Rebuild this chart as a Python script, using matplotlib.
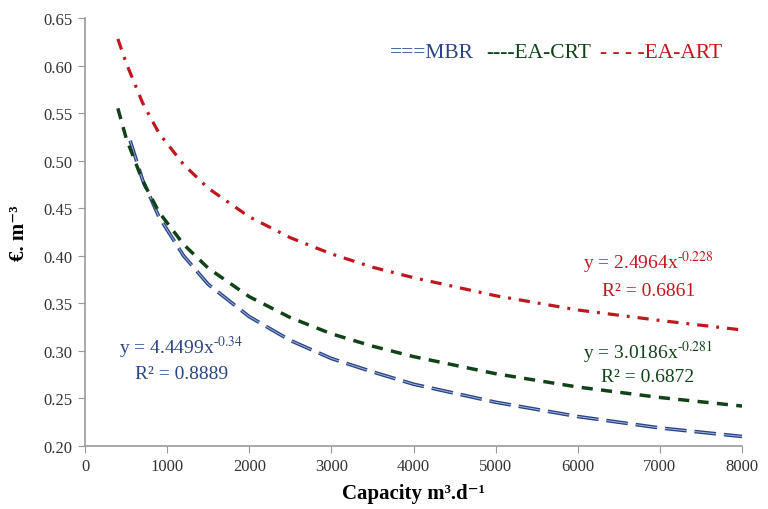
import matplotlib
matplotlib.use("Agg")
import matplotlib.pyplot as plt

plt.rcParams['font.family'] = ['Liberation Serif', 'DejaVu Serif']
plt.rcParams['mathtext.fontset'] = 'stix'

# Values
mbr_x = [550, 700, 900, 1200, 1500, 2000, 2500, 3000, 3500, 4000, 5000, 6000, 7000, 8000]
mbr_y = [0.521, 0.480, 0.441, 0.400, 0.370, 0.336, 0.311, 0.292, 0.278, 0.265, 0.246, 0.231, 0.219, 0.210]

crt_x = [400, 500, 700, 900, 1200, 1500, 2000, 2500, 3000, 3500, 4000, 5000, 6000, 7000, 8000]
crt_y = [0.555, 0.524, 0.479, 0.446, 0.412, 0.387, 0.357, 0.335, 0.318, 0.305, 0.294, 0.276, 0.262, 0.251, 0.242]

art_x = [400, 500, 700, 900, 1200, 1500, 2000, 2500, 3000, 3500, 4000, 5000, 6000, 7000, 8000]
art_y = [0.628, 0.603, 0.561, 0.529, 0.496, 0.471, 0.441, 0.419, 0.402, 0.388, 0.377, 0.358, 0.343, 0.332, 0.322]

x_ticks = [0, 1000, 2000, 3000, 4000, 5000, 6000, 7000, 8000]
y_ticks = [0.20, 0.25, 0.30, 0.35, 0.40, 0.45, 0.50, 0.55, 0.60, 0.65]

c_mbr = '#2B4584'
c_crt = '#12421A'
c_art = '#C0161E'

fig = plt.figure(figsize=(7.68, 5.10), dpi=100)
ax = fig.add_axes([85/768, 1-447/510, (742-85)/768, (447-19)/510])

ax.plot(mbr_x, mbr_y, color=c_mbr, lw=2.6, dashes=(6, 2.2))
ax.plot(mbr_x, mbr_y, color='#9DB3DD', lw=0.7, dashes=(6*2.6/0.7, 2.2*2.6/0.7))
ax.plot(crt_x, crt_y, color=c_crt, lw=2.5, dashes=(3.2, 2.4))
ax.plot(art_x, art_y, color=c_art, lw=2.3, dashes=(3.5, 2.5, 0.9, 2.5))

ax.set_xlim(0, 8000)
ax.set_ylim(0.20, 0.65)
ax.set_xticks(x_ticks)
ax.set_yticks(y_ticks)
ax.set_yticklabels([f"{v:.2f}" for v in y_ticks])
for s in ['top', 'right']:
    ax.spines[s].set_visible(False)
for s in ['left', 'bottom']:
    ax.spines[s].set_color('#9a9a9a')
    ax.spines[s].set_linewidth(1.2)
ax.tick_params(axis='both', direction='out', length=5, color='#9a9a9a',
               labelsize=12, labelcolor='#333333', pad=4)

ax.set_xlabel("Capacity m³.d⁻¹", fontsize=15, fontweight='bold', labelpad=6)
ax.set_ylabel("€. m⁻³", fontsize=15, fontweight='bold', labelpad=10)

# legend text
ax.text(3715, 0.614, "===MBR", color=c_mbr, fontsize=15.5, va='center', ha='left')
ax.text(4884, 0.614, "----EA-CRT", color=c_crt, fontsize=15.5, va='center', ha='left')
ax.text(6270, 0.614, "- - - -EA-ART", color=c_art, fontsize=15.5, va='center', ha='left')

# equations
ax.text(1170, 0.304, r"y = 4.4499x$^{\text{-0.34}}$", color=c_mbr, fontsize=14, ha='center', va='center')
ax.text(1170, 0.276, "R² = 0.8889", color=c_mbr, fontsize=14, ha='center', va='center')
ax.text(6860, 0.393, r"y = 2.4964x$^{\text{-0.228}}$", color=c_art, fontsize=14, ha='center', va='center')
ax.text(6860, 0.363, "R² = 0.6861", color=c_art, fontsize=14, ha='center', va='center')
ax.text(6850, 0.300, r"y = 3.0186x$^{\text{-0.281}}$", color=c_crt, fontsize=14, ha='center', va='center')
ax.text(6850, 0.273, "R² = 0.6872", color=c_crt, fontsize=14, ha='center', va='center')

fig.savefig("out.png", dpi=100)
